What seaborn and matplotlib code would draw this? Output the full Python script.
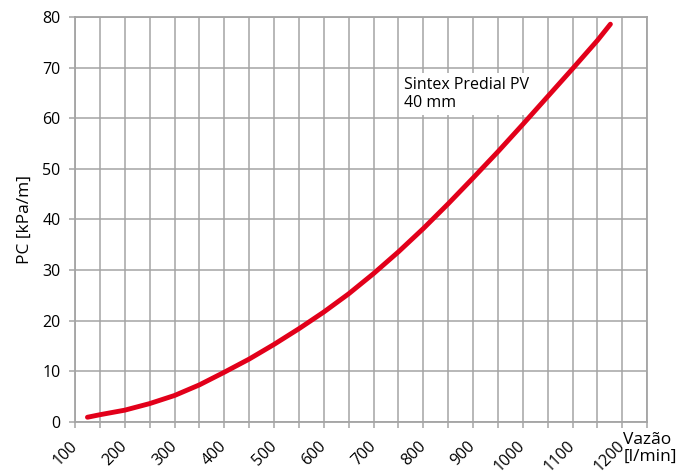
import pandas as pd
import matplotlib.pyplot as plt
import matplotlib.transforms as mtransforms
import seaborn as sns
from matplotlib.ticker import MultipleLocator

# flow rate [l/min] and pressure loss [kPa/m]
vazao = [125, 150, 200, 250, 300, 350, 400, 450, 500, 550, 600, 650,
         700, 750, 800, 850, 900, 950, 1000, 1050, 1100, 1150, 1176]
pc = [0.9, 1.4, 2.3, 3.6, 5.2, 7.3, 9.8, 12.4, 15.3, 18.4, 21.7, 25.3,
      29.3, 33.6, 38.2, 43.1, 48.2, 53.4, 58.8, 64.3, 69.8, 75.4, 78.6]
x_ticks = list(range(100, 1300, 100))
x_labels = [str(v) for v in x_ticks]
serie_label = "Sintex Predial PV\n40 mm"

df = pd.DataFrame({"vazao": vazao, "pc": pc})

sns.set_style("white")
plt.rcParams['font.family'] = ['Open Sans', 'DejaVu Sans']
plt.rcParams['text.color'] = 'black'
plt.rcParams['axes.labelcolor'] = 'black'
grid_col = "#a4a4a4"

fig = plt.figure(figsize=(6.82, 4.75), dpi=100)
ax = fig.add_axes([0.110, 0.112, 0.839, 0.852])

sns.lineplot(data=df, x="vazao", y="pc", ax=ax, color="#e2001a",
             linewidth=3.5, solid_capstyle="round", zorder=3)

ax.set_xlim(100, 1250)
ax.set_ylim(0, 80)
ax.xaxis.set_minor_locator(MultipleLocator(50))
ax.yaxis.set_major_locator(MultipleLocator(10))
ax.set_xticks(x_ticks)
ax.set_xticklabels(x_labels, rotation=45, ha="right", va="center",
                   rotation_mode="anchor")
# nudge rotated labels a bit left of their ticks
shift = mtransforms.ScaledTranslation(-4 / 100, 0, fig.dpi_scale_trans)
for lbl in ax.get_xticklabels():
    lbl.set_transform(lbl.get_transform() + shift)

ax.grid(True, which="both", axis="x", color=grid_col, linewidth=1.1)
ax.grid(True, which="major", axis="y", color=grid_col, linewidth=1.1)
for s in ax.spines.values():
    s.set_color(grid_col)
    s.set_linewidth(1.3)

ax.tick_params(axis="both", which="both", direction="out", length=4.5,
               width=1.1, color=grid_col, labelsize=11.5, labelcolor="black",
               bottom=True, left=True)
ax.tick_params(axis="x", which="major", pad=11)
ax.tick_params(axis="y", pad=6)

ax.set_xlabel("")
ax.set_ylabel("PC [kPa/m]", fontsize=12.5, labelpad=7, color="black")
ax.text(0.958, -0.025, "Vazão\n[l/min]", transform=ax.transAxes,
        ha="left", va="top", fontsize=12.5, linespacing=1.1, color="black")

ax.text(762, 68.1, serie_label, ha="left", va="top", fontsize=11.5,
        linespacing=1.15, zorder=2.5, color="black",
        bbox=dict(facecolor="white", edgecolor="none", pad=3))

fig.savefig("out.png", dpi=100)
